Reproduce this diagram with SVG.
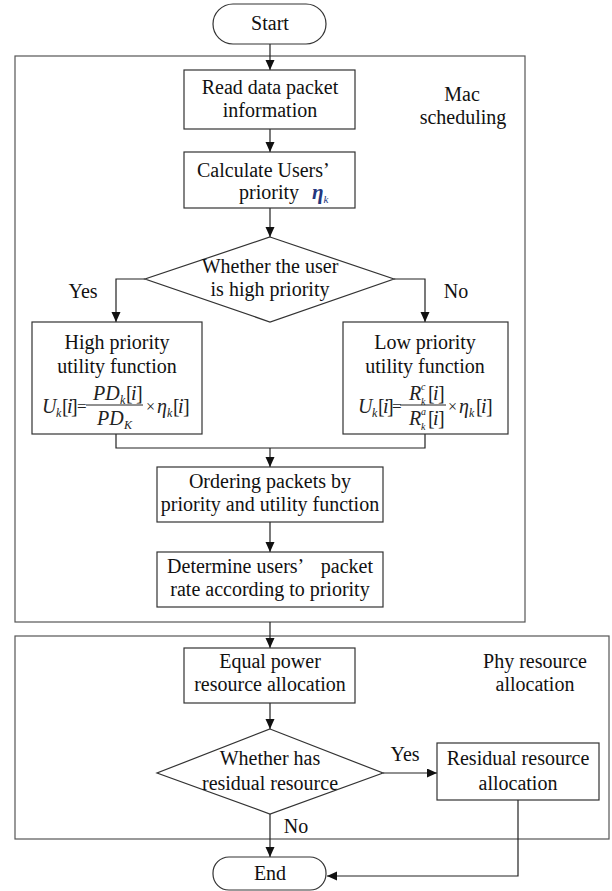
<svg xmlns="http://www.w3.org/2000/svg" width="612" height="891" viewBox="0 0 612 891">
<style>
.t{font-family:"Liberation Serif","Times New Roman",serif;font-size:20px;fill:#111}
.c{text-anchor:middle}
.m{font-family:"Liberation Serif","Times New Roman",serif;font-size:20px;font-style:italic;fill:#222}
.u{font-style:normal}
.s{font-size:12px}
.ss{font-size:10px}
.box{fill:#fff;stroke:#333;stroke-width:1.2}
.cont{fill:none;stroke:#555;stroke-width:1.2}
.ln{fill:none;stroke:#222;stroke-width:1.2}
.bar{stroke:#222;stroke-width:1}
</style>
<defs>
<marker id="ah" markerUnits="userSpaceOnUse" markerWidth="10" markerHeight="10" refX="10" refY="4.5" orient="auto">
<path d="M0,0 L10,4.5 L0,9 z" fill="#111"/>
</marker>
</defs>

<rect class="cont" x="15" y="56" width="510" height="566"/>
<rect class="cont" x="15" y="636" width="594" height="203"/>
<text class="t c" x="462" y="101">Mac</text>
<text class="t c" x="463" y="124">scheduling</text>
<text class="t c" x="535" y="668">Phy resource</text>
<text class="t c" x="535" y="691">allocation</text>

<g id="connectors">
<line class="ln" x1="270" y1="44" x2="270" y2="70" marker-end="url(#ah)"/>
<line class="ln" x1="270" y1="129" x2="270" y2="152" marker-end="url(#ah)"/>
<line class="ln" x1="270" y1="208" x2="270" y2="237" marker-end="url(#ah)"/>
<polyline class="ln" points="145,279 116,279 116,322" marker-end="url(#ah)"/>
<polyline class="ln" points="394,279 425,279 425,322" marker-end="url(#ah)"/>
<polyline class="ln" points="116,434 116,448 425,448 425,434"/>
<line class="ln" x1="270" y1="448" x2="270" y2="467" marker-end="url(#ah)"/>
<line class="ln" x1="270" y1="522" x2="270" y2="552" marker-end="url(#ah)"/>
<line class="ln" x1="270" y1="622" x2="270" y2="648" marker-end="url(#ah)"/>
<line class="ln" x1="270" y1="703" x2="270" y2="729" marker-end="url(#ah)"/>
<line class="ln" x1="383" y1="773" x2="437" y2="773" marker-end="url(#ah)"/>
<line class="ln" x1="270" y1="814" x2="270" y2="857" marker-end="url(#ah)"/>
<polyline class="ln" points="518,800 518,876 327,876" marker-end="url(#ah)"/>
<text class="t c" x="83" y="298">Yes</text>
<text class="t c" x="456" y="298">No</text>
<text class="t c" x="405" y="761">Yes</text>
<text class="t c" x="296" y="833">No</text>
</g>

<g id="start">
<rect class="box" x="213" y="4" width="113" height="40" rx="20"/>
<text class="t c" x="270" y="30">Start</text>
</g>

<g id="read">
<rect class="box" x="184" y="70" width="171" height="59"/>
<text class="t c" x="270" y="94">Read data packet</text>
<text class="t c" x="270" y="117">information</text>
</g>

<g id="calc">
<rect class="box" x="184" y="152" width="171" height="56"/>
<text class="t" x="197" y="177">Calculate Users’</text>
<text class="t" x="239" y="199">priority</text>
<text x="312" y="199" style="font-family:'Liberation Serif',serif;font-size:21px;font-style:italic;font-weight:bold;fill:#23367d">η<tspan font-size="11" dy="4" font-weight="normal">k</tspan></text>
</g>

<g id="decision1">
<polygon class="box" points="270,237 394,279 270,322 145,279"/>
<text class="t c" x="270" y="273">Whether the user</text>
<text class="t c" x="270" y="296">is high priority</text>
</g>

<g id="high">
<rect class="box" x="32" y="322" width="170" height="112"/>
<text class="t c" x="117" y="349">High priority</text>
<text class="t c" x="117" y="373">utility function</text>
<text class="m"><tspan x="42" y="413">U</tspan><tspan class="s" x="56" y="417">k</tspan><tspan class="u" x="62" y="413">[</tspan><tspan x="67" y="413">i</tspan><tspan class="u" x="71" y="413">]</tspan><tspan class="u" x="77" y="412" font-size="17">=</tspan></text>
<line class="bar" x1="86" y1="405" x2="143" y2="405"/>
<text class="m"><tspan x="93" y="400">PD</tspan><tspan class="s" x="120" y="404">k</tspan><tspan class="u" x="126" y="400">[</tspan><tspan x="131" y="400">i</tspan><tspan class="u" x="136" y="400">]</tspan></text>
<text class="m"><tspan x="97" y="425">PD</tspan><tspan class="s" x="124" y="429">K</tspan></text>
<text class="m"><tspan class="u" x="146" y="412" font-size="16">×</tspan><tspan x="157" y="413">η</tspan><tspan class="s" x="167" y="417">k</tspan><tspan class="u" x="173" y="413">[</tspan><tspan x="178" y="413">i</tspan><tspan class="u" x="183" y="413">]</tspan></text>
</g>

<g id="low">
<rect class="box" x="343" y="322" width="165" height="112"/>
<text class="t c" x="425" y="349">Low priority</text>
<text class="t c" x="425" y="373">utility function</text>
<text class="m"><tspan x="358" y="413">U</tspan><tspan class="s" x="372" y="417">k</tspan><tspan class="u" x="378" y="413">[</tspan><tspan x="383" y="413">i</tspan><tspan class="u" x="387" y="413">]</tspan><tspan class="u" x="392" y="412" font-size="17">=</tspan></text>
<line class="bar" x1="400" y1="405" x2="446" y2="405"/>
<text class="m"><tspan x="409" y="400">R</tspan><tspan class="ss" x="421" y="390">c</tspan><tspan class="ss" x="421" y="405">k</tspan><tspan class="u" x="428" y="400">[</tspan><tspan x="433" y="400">i</tspan><tspan class="u" x="438" y="400">]</tspan></text>
<text class="m"><tspan x="409" y="425">R</tspan><tspan class="ss" x="421" y="415">a</tspan><tspan class="ss" x="421" y="430">k</tspan><tspan class="u" x="428" y="425">[</tspan><tspan x="433" y="425">i</tspan><tspan class="u" x="438" y="425">]</tspan></text>
<text class="m"><tspan class="u" x="448" y="412" font-size="16">×</tspan><tspan x="459" y="413">η</tspan><tspan class="s" x="469" y="417">k</tspan><tspan class="u" x="476" y="413">[</tspan><tspan x="481" y="413">i</tspan><tspan class="u" x="486" y="413">]</tspan></text>
</g>

<g id="ordering">
<rect class="box" x="157" y="467" width="226" height="55"/>
<text class="t c" x="270" y="488">Ordering packets by</text>
<text class="t c" x="270" y="511">priority and utility function</text>
</g>

<g id="determine">
<rect class="box" x="157" y="552" width="226" height="55"/>
<text class="t c" x="270" y="573">Determine users’ <tspan dx="13">packet</tspan></text>
<text class="t c" x="270" y="596">rate according to priority</text>
</g>

<g id="equal">
<rect class="box" x="184" y="648" width="171" height="55"/>
<text class="t c" x="270" y="668">Equal power</text>
<text class="t c" x="270" y="691">resource allocation</text>
</g>

<g id="decision2">
<polygon class="box" points="270,729 383,773 270,814 157,773"/>
<text class="t c" x="270" y="765">Whether has</text>
<text class="t c" x="270" y="790">residual resource</text>
</g>

<g id="residual">
<rect class="box" x="437" y="743" width="162" height="57"/>
<text class="t c" x="518" y="765">Residual resource</text>
<text class="t c" x="518" y="790">allocation</text>
</g>

<g id="end">
<rect class="box" x="213" y="857" width="113" height="33" rx="16"/>
<text class="t c" x="270" y="880">End</text>
</g>
</svg>
